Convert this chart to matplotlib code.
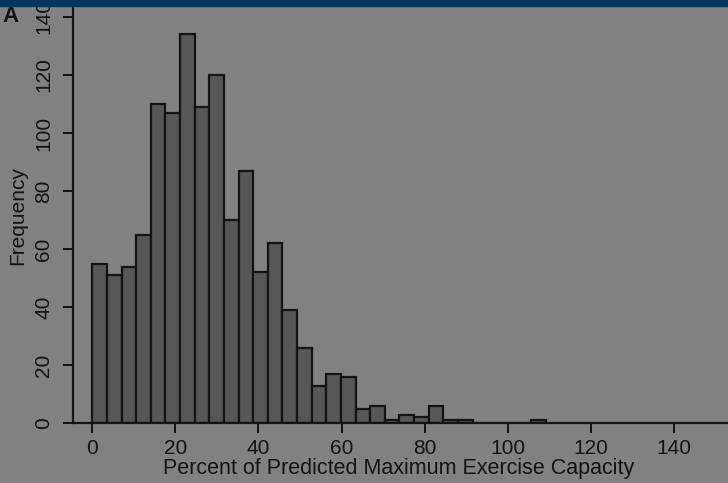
import matplotlib.pyplot as plt
import numpy as np
from matplotlib.patches import Rectangle

# histogram counts (bins of ~3.52 starting at 0)
bin_width = 3.52
counts = [55, 51, 54, 65, 110, 107, 134, 109, 120, 70, 87, 52, 62, 39, 26,
          13, 17, 16, 5, 6, 1, 3, 2, 6, 1, 1, 0, 0, 0, 0, 1]
x_ticks = [0, 20, 40, 60, 80, 100, 120, 140]
y_ticks = [0, 20, 40, 60, 80, 100, 120, 140]

bg = "#818181"
ink = "#141414"

plt.rcParams["font.family"] = ["Liberation Sans", "DejaVu Sans"]

fig = plt.figure(figsize=(7.28, 4.83), dpi=100, facecolor=bg)
ax = fig.add_axes([0.0999, 0.1236, 0.9001, 0.8764])
ax.set_facecolor(bg)

edges = np.arange(len(counts)) * bin_width
ax.bar(edges, counts, width=bin_width, align="edge",
       color="#575757", edgecolor=ink, linewidth=1.6)

ax.set_xlim(-4.7, 153)
ax.set_ylim(0, 145.8)
ax.set_xticks(x_ticks)
ax.set_yticks(y_ticks)

for side in ("top", "right"):
    ax.spines[side].set_visible(False)
for side in ("left", "bottom"):
    ax.spines[side].set_color(ink)
    ax.spines[side].set_linewidth(1.6)

ax.tick_params(axis="both", colors=ink, width=1.4, length=7,
               labelsize=15, labelcolor=ink)
ax.tick_params(axis="x", pad=4)
ax.tick_params(axis="y", pad=7)
for lab in ax.get_yticklabels():
    lab.set_rotation(90)
    lab.set_va("center")

ax.set_xlabel("Percent of Predicted Maximum Exercise Capacity",
              fontsize=15.5, color=ink)
ax.xaxis.set_label_coords(0.498, -0.082)
ax.set_ylabel("Frequency", fontsize=15, color=ink)
ax.yaxis.set_label_coords(-0.07, 0.49)

# panel letter and dark blue band along the top edge
fig.text(0.004, 0.966, "A", fontsize=16, fontweight="bold", color=ink,
         ha="left", va="center")
fig.add_artist(Rectangle((0, 1 - 6 / 483), 1, 6 / 483,
                         transform=fig.transFigure, color="#00365e",
                         zorder=10))

fig.savefig("out.png", dpi=100, facecolor=bg)
